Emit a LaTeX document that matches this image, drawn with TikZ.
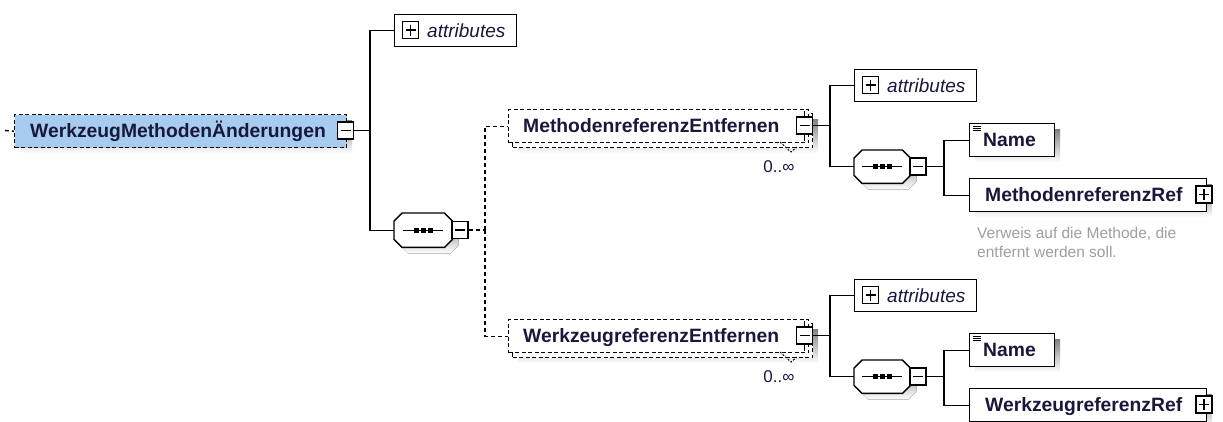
\documentclass[tikz,border=0pt]{standalone}
\usepackage{fontspec}
\setmainfont{Liberation Sans}
\usetikzlibrary{calc}
\definecolor{rootblue}{RGB}{168,203,240}
\definecolor{shade}{RGB}{194,194,194}
\definecolor{txt}{RGB}{24,24,60}
\definecolor{desc}{RGB}{160,158,156}
\tikzset{
 conn/.style={line width=1.4pt, draw=black},
 dconn/.style={conn, dash pattern=on 4pt off 3pt},
 ebox/.style={draw, line width=1.4pt, fill=white, rectangle, inner sep=0pt, anchor=north west},
 debox/.style={ebox, dash pattern=on 4pt off 2.5pt},
 hidden/.style={draw=none, fill=none, rectangle, inner sep=0pt, anchor=north west},
 lbl/.style={anchor=base west, inner sep=0pt, text=txt, font=\fontsize{19.3}{22}\selectfont\bfseries},
 attl/.style={anchor=base west, inner sep=0pt, text=txt, font=\fontsize{19}{22}\selectfont\itshape},
 occ/.style={anchor=base, inner sep=0pt, text=txt, font=\fontsize{17}{20}\selectfont},
 dsc/.style={anchor=base west, inner sep=0pt, text=desc, font=\fontsize{15.5}{18}\selectfont},
 pmbox/.style={draw, line width=1.3pt, fill=white, minimum width=16pt, minimum height=17pt, inner sep=0pt},
 minusbox/.style={pmbox, path picture={\draw[line width=1.3pt] ($(path picture bounding box.west)+(3pt,0pt)$) -- ($(path picture bounding box.east)+(-3pt,0pt)$);}},
 plusbox/.style={pmbox, path picture={\draw[line width=1.3pt] ($(path picture bounding box.west)+(3pt,0pt)$) -- ($(path picture bounding box.east)+(-3pt,0pt)$);
   \draw[line width=1.3pt] ($(path picture bounding box.north)+(0pt,-3pt)$) -- ($(path picture bounding box.south)+(0pt,3pt)$);}},
}
% octagon for a sequence compositor, drawn around a hidden node
\newcommand\octoshape[1]{%
 \fill[shade] ($(#1.north west)+(14,6)$) -- ($(#1.north east)+(-2,6)$) -- ($(#1.north east)+(6,14)$) -- ($(#1.south east)+(6,-2)$) -- ($(#1.south east)+(-2,6)$) -- ($(#1.south west)+(14,6)$) -- ($(#1.south west)+(6,-2)$) -- ($(#1.north west)+(6,14)$) -- cycle;
 \draw[conn, fill=white] ($(#1.north west)+(8,0)$) -- ($(#1.north east)+(-8,0)$) -- ($(#1.north east)+(0,8)$) -- ($(#1.south east)+(0,-8)$) -- ($(#1.south east)+(-8,0)$) -- ($(#1.south west)+(8,0)$) -- ($(#1.south west)+(0,-8)$) -- ($(#1.north west)+(0,8)$) -- cycle;
 \draw[line width=1.2pt] ($(#1.center)+(-20,0)$) -- ($(#1.center)+(20,0)$);
 \foreach \d in {-7,0,7} {\fill ($(#1.center)+(\d-2.5,-2.5)$) rectangle ++(5,5);}
}
\newcommand\nameicon[1]{%
 \foreach \d in {3.5,5.5,7.5} {\draw[line width=0.7pt] ($(#1.north west)+(3.5,\d)$) -- ++(8,0);}
}
\begin{document}
\begin{tikzpicture}[x=1pt,y=-1pt]
\useasboundingbox (0,0) rectangle (1223,421);
\clip (0,0) rectangle (1223,421);

% ---------------- root element
\fill[shade] (20,120) rectangle (352,153);
\node[debox, fill=rootblue, minimum width=332, minimum height=33] (root) at (14,114) {};
\node[lbl] (rootT) at (30,137.5) {WerkzeugMethodenÄnderungen};
\node[minusbox] (rootM) at (345.5,130.5) {};
\coordinate (rootS) at (5,130.5);
\draw[dconn] (rootS) -- (root.west);

% ---------------- first level
\coordinate (j1) at (370,130.5);
\draw[conn] (rootM.east) -- (j1);

\node[ebox, minimum width=122, minimum height=32] (att1) at (394,14) {};
\node[plusbox] (att1P) at (410.5,30) {};
\node[attl] (att1T) at (427,37) {attributes};

\node[hidden, minimum width=58, minimum height=34] (s1) at (394,213) {};
\octoshape{s1}
\node[minusbox] (s1M) at (460,230) {};

\draw[conn] (j1) |- (att1.west);
\draw[conn] (j1) |- (s1.west);

% ---------------- trunk of the sequence
\coordinate (j2) at (485,230);
\draw[dconn] (s1M.east) -- (j2);

% MethodenreferenzEntfernen (repeated element)
\fill[shade] (518,119) rectangle (818,153);
\node[debox, minimum width=300, minimum height=34] (mrB) at (512,113) {};
\node[debox, minimum width=300, minimum height=33] (mr) at (508,109) {};
\draw[line width=1pt, dash pattern=on 2pt off 1.5pt] (780,142) -- (791,152) -- (797,147);
\node[lbl] (mrT) at (523,132.5) {MethodenreferenzEntfernen};
\draw[line width=1.2pt] (804.5,117) -- (804.5,111) (804.5,134) -- (804.5,141);
\node[minusbox] (mrM) at (804.5,125.5) {};
\node[occ] (mrO) at (779,172) {0..∞};

% WerkzeugreferenzEntfernen (repeated element)
\fill[shade] (518,329) rectangle (818,363);
\node[debox, minimum width=300, minimum height=34] (wrB) at (512,323) {};
\node[debox, minimum width=300, minimum height=33] (wr) at (508,319) {};
\draw[line width=1pt, dash pattern=on 2pt off 1.5pt] (780,352) -- (791,362) -- (797,357);
\node[lbl] (wrT) at (523,342.5) {WerkzeugreferenzEntfernen};
\draw[line width=1.2pt] (804.5,327) -- (804.5,321) (804.5,344) -- (804.5,351);
\node[minusbox] (wrM) at (804.5,335.5) {};
\node[occ] (wrO) at (779,382) {0..∞};

\draw[dconn] (j2) |- (mr.west);
\draw[dconn] (j2) |- (wr.west);

% ---------------- subtree of MethodenreferenzEntfernen
\coordinate (j3) at (830,125.5);
\draw[conn] (mrM.east) -- (j3);
\node[ebox, minimum width=122, minimum height=32] (att2) at (854,69) {};
\node[plusbox] (att2P) at (870.5,85) {};
\node[attl] (att2T) at (887,92) {attributes};
\node[hidden, minimum width=56, minimum height=33] (s2) at (854,150) {};
\octoshape{s2}
\node[minusbox] (s2M) at (918,166.5) {};
\draw[conn] (j3) |- (att2.west);
\draw[conn] (j3) |- (s2.west);

\coordinate (j4) at (944,166.5);
\draw[conn] (s2M.east) -- (j4);
\fill[shade] (975,129) rectangle (1060,162);
\node[ebox, minimum width=85, minimum height=33] (nm1) at (969,123) {};
\nameicon{nm1}
\node[lbl] (nm1T) at (983,146.5) {Name};
\fill[shade] (975,184) rectangle (1212,217);
\node[ebox, minimum width=237, minimum height=33] (ref1) at (969,178) {};
\node[lbl] (ref1T) at (985,201.5) {MethodenreferenzRef};
\node[plusbox] (ref1P) at (1204,194.5) {};
\node[dsc] (ref1D1) at (977,238) {Verweis auf die Methode, die};
\node[dsc] (ref1D2) at (977,257) {entfernt werden soll.};
\draw[conn] (j4) |- (nm1.west);
\draw[conn] (j4) |- (ref1.west);

% ---------------- subtree of WerkzeugreferenzEntfernen
\coordinate (j5) at (830,335.5);
\draw[conn] (wrM.east) -- (j5);
\node[ebox, minimum width=122, minimum height=32] (att3) at (854,279) {};
\node[plusbox] (att3P) at (870.5,295) {};
\node[attl] (att3T) at (887,302) {attributes};
\node[hidden, minimum width=56, minimum height=33] (s3) at (854,360) {};
\octoshape{s3}
\node[minusbox] (s3M) at (918,376.5) {};
\draw[conn] (j5) |- (att3.west);
\draw[conn] (j5) |- (s3.west);

\coordinate (j6) at (944,376.5);
\draw[conn] (s3M.east) -- (j6);
\fill[shade] (975,339) rectangle (1060,372);
\node[ebox, minimum width=85, minimum height=33] (nm2) at (969,333) {};
\nameicon{nm2}
\node[lbl] (nm2T) at (983,356.5) {Name};
\fill[shade] (975,394) rectangle (1212,427);
\node[ebox, minimum width=237, minimum height=33] (ref2) at (969,388) {};
\node[lbl] (ref2T) at (985,411.5) {WerkzeugreferenzRef};
\node[plusbox] (ref2P) at (1204,404.5) {};
\draw[conn] (j6) |- (nm2.west);
\draw[conn] (j6) |- (ref2.west);
\end{tikzpicture}
\end{document}
